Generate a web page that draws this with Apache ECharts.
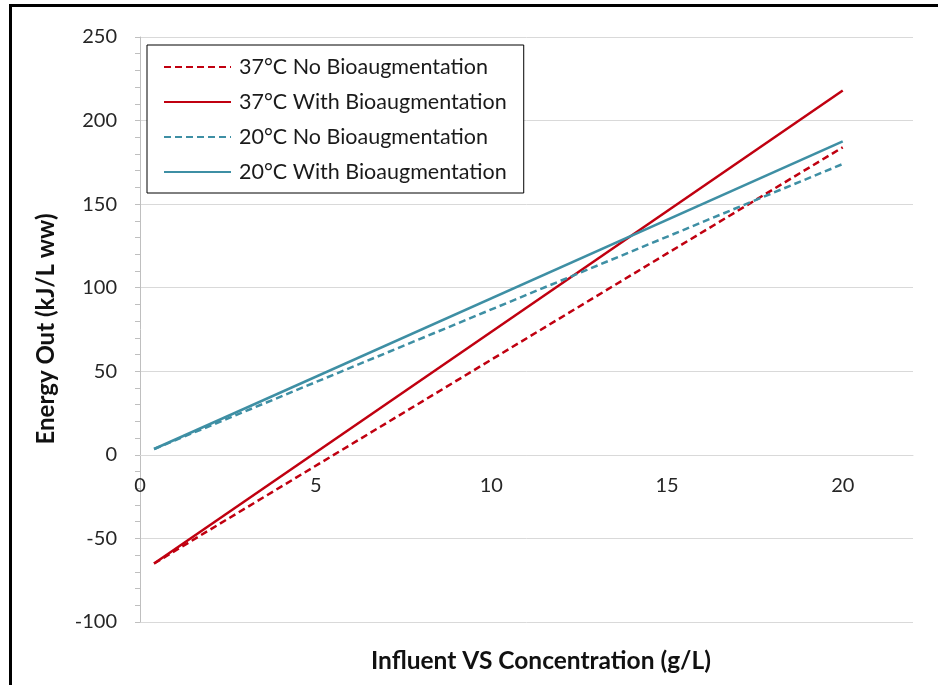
<!DOCTYPE html>
<html><head><meta charset="utf-8">
<script src="https://cdn.jsdelivr.net/npm/echarts@6/dist/echarts.min.js"></script>
<style>html,body{margin:0;padding:0;background:#fff}#c{width:938px;height:685px}</style>
</head><body><div id="c"></div>
<script>
// ---- data ----
const seriesNames = [
  '37°C No Bioaugmentation',
  '37°C With Bioaugmentation',
  '20°C No Bioaugmentation',
  '20°C With Bioaugmentation'
];
const xValues = [0.4, 20];
const y37No = [-65, 184];
const y37With = [-65, 218];
const y20No = [3.5, 174];
const y20With = [3.5, 187.5];
const xTickLabels = [0, 5, 10, 15, 20];
const yTickLabels = [-100, -50, 0, 50, 100, 150, 200, 250];
const xTitle = 'Influent VS Concentration (g/L)';
const yTitle = 'Energy Out (kJ/L ww)';

// ---- styling ----
const FONT = 'Lato';
const RED = '#C00010';
const TEAL = '#3E8FA4';
const pair = ys => xValues.map((x, i) => [x, ys[i]]);

const GRID = {left: 140, top: 37, right: 25, bottom: 63};
const Y_MIN = -100, Y_MAX = 250;
const plotH = 685 - GRID.top - GRID.bottom;
// distance from the bottom of the plot to the y = 0 line
const zeroOffset = plotH * (0 - Y_MIN) / (Y_MAX - Y_MIN);

const chart = echarts.init(document.getElementById('c'), null, {renderer: 'canvas'});
const mk = (name, ys, color, dashed) => ({
  name, type: 'line', data: pair(ys), symbol: 'none', silent: true,
  lineStyle: {color, width: 2.5, type: dashed ? [7, 4] : 'solid'},
  itemStyle: {color}
});
chart.setOption({
  backgroundColor: '#fff',
  animation: false,
  textStyle: {fontFamily: FONT},
  grid: Object.assign({containLabel: false}, GRID),
  legend: {
    orient: 'vertical', left: 147, top: 45,
    borderColor: '#000', borderWidth: 1, backgroundColor: '#fff',
    padding: [11, 17, 10, 16],
    itemWidth: 67, itemHeight: 14, itemGap: 13,
    itemStyle: {opacity: 0, color: 'rgba(0,0,0,0)', borderWidth: 0},
    textStyle: {fontFamily: FONT, fontSize: 21.5, color: '#1a1a1a', padding: [0, 0, 0, 3]},
    data: seriesNames
  },
  xAxis: {
    type: 'value', min: 0, max: 22, interval: 5,
    position: 'bottom', offset: -zeroOffset,
    axisLine: {show: true, onZero: false, lineStyle: {color: '#d9d9d9', width: 1}},
    axisTick: {show: false},
    splitLine: {show: false},
    axisLabel: {
      margin: 21, fontSize: 20, color: '#262626', fontFamily: FONT,
      showMaxLabel: false,
      formatter: v => xTickLabels.indexOf(v) >= 0 ? String(v) : ''
    }
  },
  yAxis: {
    type: 'value', min: Y_MIN, max: Y_MAX, interval: 50,
    axisLine: {show: true, onZero: false, lineStyle: {color: '#bfbfbf', width: 1}},
    axisTick: {show: true, length: 5, lineStyle: {color: '#bfbfbf'}},
    minorTick: {show: true, splitNumber: 5, length: 5, lineStyle: {color: '#bfbfbf'}},
    splitLine: {show: true, lineStyle: {color: '#d9d9d9', width: 1}},
    axisLabel: {
      margin: 23, fontSize: 20, color: '#262626', fontFamily: FONT,
      formatter: v => yTickLabels.indexOf(v) >= 0 ? String(v) : ''
    }
  },
  graphic: [
    {type: 'rect', shape: {x: 9, y: 4, width: 929, height: 3}, style: {fill: '#000'}, silent: true},
    {type: 'rect', shape: {x: 9, y: 4, width: 3, height: 681}, style: {fill: '#000'}, silent: true},
    {type: 'text', x: 541, y: 661, silent: true,
     style: {text: xTitle, align: 'center', verticalAlign: 'middle', font: 'bold 24.5px ' + FONT, fill: '#111'}},
    {type: 'text', x: 46, y: 329, rotation: Math.PI / 2, silent: true,
     style: {text: yTitle, align: 'center', verticalAlign: 'middle', font: 'bold 24px ' + FONT, fill: '#111'}}
  ],
  series: [
    mk(seriesNames[0], y37No, RED, true),
    mk(seriesNames[1], y37With, RED, false),
    mk(seriesNames[2], y20No, TEAL, true),
    mk(seriesNames[3], y20With, TEAL, false)
  ]
});
</script></body></html>
